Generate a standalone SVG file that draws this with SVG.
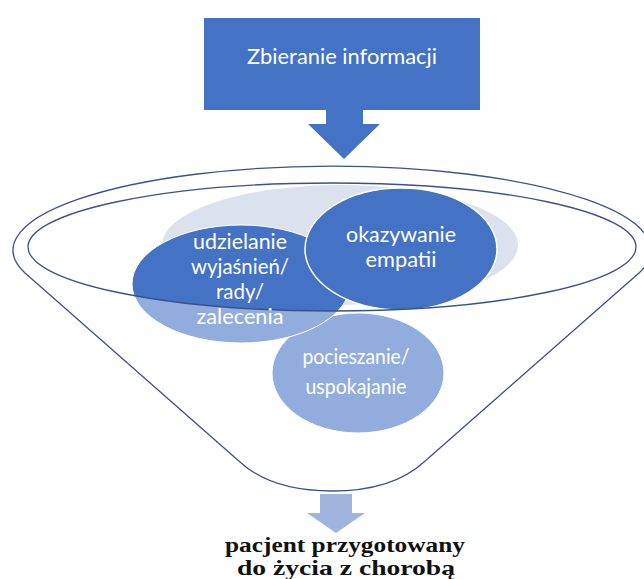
<svg xmlns="http://www.w3.org/2000/svg" width="644" height="579" viewBox="0 0 644 579">
  <style>
    .lbl { font-family: Lato, "Open Sans", "Liberation Sans", sans-serif; font-size: 21px; fill: #ffffff; text-anchor: middle; }
    .out { font-family: "Liberation Serif", "Times New Roman", serif; font-size: 22px; font-weight: bold; fill: #111111; text-anchor: middle; }
    .dark { fill: #4472c4; }
    .funnel-line { fill: none; stroke: #3a5288; stroke-width: 1.3; }
  </style>
  <rect width="644" height="579" fill="#ffffff"/>

  <g id="node-zbieranie">
    <rect x="204" y="18" width="276" height="92" class="dark"/>
    <text class="lbl" x="342" y="64" textLength="190" lengthAdjust="spacingAndGlyphs">Zbieranie informacji</text>
  </g>

  <g id="connectors">
    <polygon class="dark" points="326,109 363,109 363,124 380,124 344,159 308,124 326,124"/>
    <polygon fill="#a0b4de" points="320,494 352,494 352,513 365,513 336,533 307,513 320,513"/>
  </g>

  <g id="node-background">
    <ellipse cx="340" cy="245" rx="178" ry="60" fill="#dce1ee"/>
  </g>

  <g id="node-pocieszanie">
    <ellipse cx="358" cy="373" rx="86" ry="60" fill="#4472c4" stroke="#ffffff" stroke-width="1"/>
  </g>

  <g id="node-udzielanie">
    <ellipse cx="241" cy="284" rx="109" ry="59" fill="#4472c4" stroke="#ffffff" stroke-width="1"/>
  </g>

  <g id="node-okazywanie">
    <ellipse cx="401" cy="249" rx="96" ry="61" fill="#4472c4" stroke="#ffffff" stroke-width="1.5"/>
  </g>

  <g id="funnel">
    <path fill="#ffffff" fill-opacity="0.42" fill-rule="evenodd"
      d="M 25 273 L 240 462 C 265 485 300 491 332 491 C 364 491 399 485 424 462 L 639 273 A 319 84 0 1 0 25 273 Z
         M 28 247 A 304 64 0 1 0 636 247 A 304 64 0 1 0 28 247 Z"/>
    <path class="funnel-line" d="M 25 273 L 240 462 C 265 485 300 491 332 491 C 364 491 399 485 424 462 L 639 273 A 319 84 0 1 0 25 273 Z"/>
    <ellipse class="funnel-line" cx="332" cy="247" rx="304" ry="64"/>
  </g>

  <g id="labels">
    <text class="lbl" x="240" y="249" textLength="94" lengthAdjust="spacingAndGlyphs">udzielanie</text>
    <text class="lbl" x="240" y="274" textLength="98" lengthAdjust="spacingAndGlyphs">wyjaśnień/</text>
    <text class="lbl" x="240" y="299" textLength="48" lengthAdjust="spacingAndGlyphs">rady/</text>
    <text class="lbl" x="240" y="324" textLength="87" lengthAdjust="spacingAndGlyphs">zalecenia</text>
    <text class="lbl" x="401" y="242" textLength="110" lengthAdjust="spacingAndGlyphs">okazywanie</text>
    <text class="lbl" x="401" y="267" textLength="71" lengthAdjust="spacingAndGlyphs">empatii</text>
    <text class="lbl" x="356" y="364" textLength="107" lengthAdjust="spacingAndGlyphs">pocieszanie/</text>
    <text class="lbl" x="356" y="394" textLength="101" lengthAdjust="spacingAndGlyphs">uspokajanie</text>
  </g>

  <g id="node-result">
    <text class="out" x="345" y="552" textLength="240" lengthAdjust="spacingAndGlyphs">pacjent przygotowany</text>
    <text class="out" x="346" y="575" textLength="218" lengthAdjust="spacingAndGlyphs">do życia z chorobą</text>
  </g>
</svg>
